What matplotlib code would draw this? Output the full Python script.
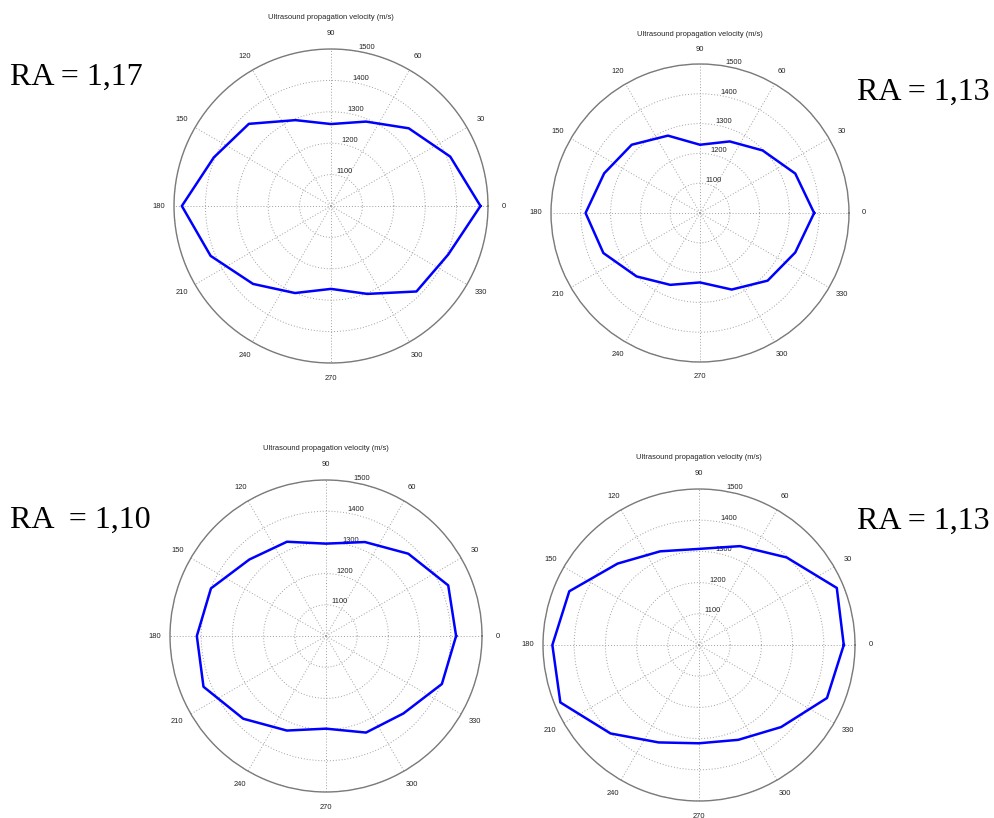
import numpy as np
import matplotlib
matplotlib.use("Agg")
import matplotlib.pyplot as plt

# ---- data ----
directions_deg = [0, 22.5, 45, 67.5, 90, 112.5, 135, 157.5,
                  180, 202.5, 225, 247.5, 270, 292.5, 315, 337.5]

velocity_tl = [1476, 1411, 1350, 1291, 1261, 1296, 1370, 1404,
               1475, 1415, 1351, 1300, 1264, 1303, 1385, 1404]
velocity_tr = [1383, 1346, 1297, 1260, 1229, 1281, 1324, 1348,
               1384, 1351, 1301, 1261, 1233, 1278, 1321, 1346]
velocity_bl = [1417, 1424, 1373, 1326, 1296, 1327, 1347, 1399,
               1414, 1425, 1375, 1328, 1297, 1335, 1351, 1402]
velocity_br = [1464, 1478, 1397, 1343, 1308, 1325, 1369, 1450,
               1470, 1481, 1401, 1338, 1315, 1329, 1372, 1444]

ra_labels = ["RA = 1,17", "RA = 1,13", "RA  = 1,10", "RA = 1,13"]
angle_ticks = [0, 30, 60, 90, 120, 150, 180, 210, 240, 270, 300, 330]
r_ticks = [1100, 1200, 1300, 1400, 1500]
title_text = "Ultrasound propagation velocity (m/s)"
r_min, r_max = 1000, 1500

# ---- layout (pixels) ----
W, H = 995, 818
panels = [
    dict(cx=331, cy=206, R=157, data=velocity_tl, lab=ra_labels[0], lx=10, ly=85),
    dict(cx=700, cy=213, R=149, data=velocity_tr, lab=ra_labels[1], lx=857, ly=100),
    dict(cx=326, cy=636, R=156, data=velocity_bl, lab=ra_labels[2], lx=10, ly=528),
    dict(cx=699, cy=645, R=156, data=velocity_br, lab=ra_labels[3], lx=857, ly=529),
]

fig = plt.figure(figsize=(W / 100, H / 100), dpi=100)
fig.patch.set_facecolor("white")

small_font = dict(family="Liberation Sans", size=5.4, color="#222222")

for p in panels:
    cx, cy, R = p["cx"], p["cy"], p["R"]
    rect = [(cx - R) / W, 1 - (cy + R) / H, 2 * R / W, 2 * R / H]
    ax = fig.add_axes(rect, projection="polar")
    ax.set_theta_zero_location("E")
    ax.set_theta_direction(1)
    ax.set_ylim(r_min, r_max)
    ax.set_xticks(np.deg2rad(angle_ticks))
    ax.set_xticklabels([])
    ax.set_yticks(r_ticks)
    ax.set_yticklabels([])
    ax.tick_params(length=0)
    ax.grid(True, linestyle=(0, (1, 2)), color="#a0a0a0", linewidth=0.7)
    ax.spines["polar"].set_color("#7a7a7a")
    ax.spines["polar"].set_linewidth(1.0)

    th = np.deg2rad(np.append(directions_deg, directions_deg[0]))
    vals = np.append(p["data"], p["data"][0])
    ax.plot(th, vals, color="#0000ff", linewidth=1.8, zorder=5)

    r_lab = r_min + 1.1 * (r_max - r_min)
    for a in angle_ticks:
        ax.text(np.deg2rad(a), r_lab, str(a), ha="center", va="center",
                clip_on=False, **small_font)
    for rv in r_ticks:
        ax.text(np.deg2rad(80), rv, str(rv), ha="left", va="bottom",
                clip_on=False, **small_font)
    ax.text(0.5, 1.1, title_text, transform=ax.transAxes, ha="center",
            va="center", **small_font)

    fig.text(p["lx"] / W, 1 - p["ly"] / H, p["lab"], ha="left", va="baseline",
             family="Liberation Serif", fontsize=23, color="black")

fig.savefig("out.png", dpi=100, facecolor="white")
